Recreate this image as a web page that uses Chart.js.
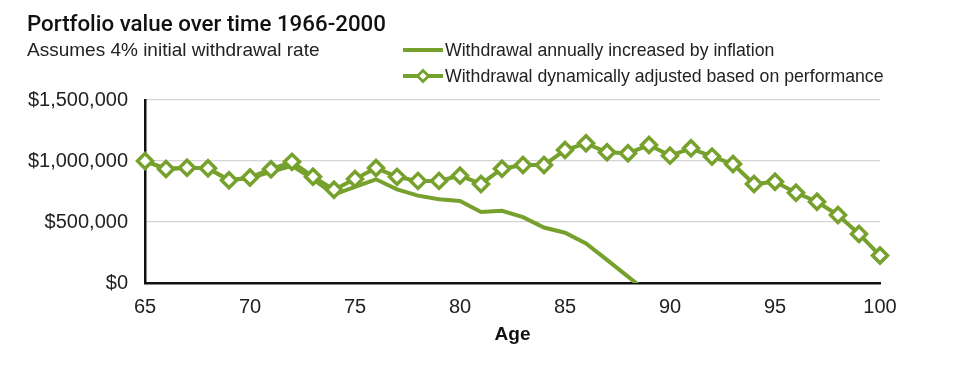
<!DOCTYPE html>
<html>
<head>
<meta charset="utf-8">
<script src="https://cdn.jsdelivr.net/npm/chart.js@4/dist/chart.umd.min.js"></script>
<style>
  html, body { margin: 0; padding: 0; background: #fff; }
  body { width: 975px; height: 369px; position: relative; overflow: hidden; font-family: "Liberation Sans", Arial, sans-serif; color: #222; }
  #chart { position: absolute; left: 0; top: 0; }
  .title { position: absolute; left: 27px; top: 10px; font-family: Roboto, "Liberation Sans", sans-serif; font-weight: 500; font-size: 22.3px; line-height: 26px; color: #111; }
  .subtitle { position: absolute; left: 27px; top: 39px; font-size: 19px; line-height: 22px; color: #222; }
  .legend { position: absolute; left: 403px; top: 37px; font-size: 17.7px; color: #222; }
  .legend .item { display: flex; align-items: center; height: 26px; }
  .legend svg { width: 40px; height: 16px; margin-right: 2px; }
</style>
</head>
<body>
<canvas id="chart" width="975" height="369"></canvas>
<div class="title">Portfolio value over time 1966-2000</div>
<div class="subtitle">Assumes 4% initial withdrawal rate</div>
<div class="legend" id="legend"></div>
<script>
// Portfolio value by age, two withdrawal strategies
const ages = [65, 66, 67, 68, 69, 70, 71, 72, 73, 74, 75, 76, 77, 78, 79, 80, 81, 82,
  83, 84, 85, 86, 87, 88, 89, 90, 91, 92, 93, 94, 95, 96, 97, 98, 99, 100];

// inflation-adjusted withdrawal runs out of money just after 88 (last value goes below zero, clipped)
const inflationValues = [1000000, 935000, 945000, 940000, 842000, 860000, 912000, 960000, 852000,
  725000, 787000, 850000, 768000, 716000, 686000, 672000, 582000, 592000, 540000, 455000,
  412000, 325000, 189000, 52000, -85000];

const dynamicValues = [1000000, 935000, 945000, 940000, 842000, 865000, 933000, 993000, 871000,
  765000, 852000, 942000, 870000, 837000, 837000, 880000, 812000, 937000, 967000, 967000,
  1090000, 1145000, 1071000, 1063000, 1131000, 1044000, 1104000, 1036000, 975000, 811000,
  830000, 740000, 666000, 557000, 402000, 225000];

const seriesNames = ['Withdrawal annually increased by inflation',
  'Withdrawal dynamically adjusted based on performance'];
const yTicks = [0, 500000, 1000000, 1500000];
const xTicks = [65, 70, 75, 80, 85, 90, 95, 100];

const GREEN = '#76a12d';

function pts(vals) {
  return vals.map((v, i) => ({ x: ages[i], y: v }));
}

// legend (html, line + diamond like the original)
const legendDiv = document.getElementById('legend');
legendDiv.innerHTML = seriesNames.map((name, i) => {
  const diamond = i === 1
    ? `<polygon points="20,2.5 25.5,8 20,13.5 14.5,8" fill="#fff" stroke="${GREEN}" stroke-width="2.8"/>`
    : '';
  return `<div class="item"><svg viewBox="0 0 40 16"><line x1="0" y1="8" x2="40" y2="8" stroke="${GREEN}" stroke-width="4"/>${diamond}</svg><span>${name}</span></div>`;
}).join('');

const tickFont = { family: '"Liberation Sans", Arial, sans-serif', size: 20 };

new Chart(document.getElementById('chart'), {
  type: 'line',
  data: {
    datasets: [
      {
        label: seriesNames[1],
        data: pts(dynamicValues),
        borderColor: GREEN,
        borderWidth: 4,
        pointStyle: 'rectRot',
        pointRadius: 7.5,
        pointBorderWidth: 3.5,
        pointBackgroundColor: '#fff',
        pointBorderColor: GREEN,
        clip: false,
        order: 0,
        tension: 0
      },
      {
        label: seriesNames[0],
        data: pts(inflationValues),
        borderColor: GREEN,
        borderWidth: 4,
        pointRadius: 0,
        clip: 0,
        order: 1,
        tension: 0
      }
    ]
  },
  options: {
    responsive: false,
    animation: false,
    devicePixelRatio: 1,
    layout: { padding: { top: 100, right: 95, bottom: 0, left: 0 } },
    plugins: {
      legend: { display: false },
      tooltip: { enabled: false }
    },
    scales: {
      x: {
        type: 'linear',
        min: 65,
        max: 100,
        afterFit: s => { s.height = 86; },
        afterBuildTicks: s => { s.ticks = xTicks.map(v => ({ value: v })); },
        grid: { display: false, drawTicks: false },
        border: { display: true, color: '#111', width: 2.5 },
        ticks: { font: tickFont, color: '#222', padding: 12 },
        title: {
          display: true,
          text: 'Age',
          font: { family: '"Liberation Sans", Arial, sans-serif', size: 19, weight: 'bold' },
          color: '#111',
          padding: { top: 0, bottom: 23 }
        }
      },
      y: {
        min: 0,
        max: 1500000,
        afterFit: s => { s.width = 145; },
        afterBuildTicks: s => { s.ticks = yTicks.map(v => ({ value: v })); },
        grid: { color: '#d4d4d4', lineWidth: 1.3, drawTicks: false },
        border: { display: true, color: '#111', width: 2.5 },
        ticks: {
          font: tickFont,
          color: '#222',
          padding: 17,
          callback: v => '$' + v.toLocaleString('en-US')
        }
      }
    }
  }
});
</script>
</body>
</html>
